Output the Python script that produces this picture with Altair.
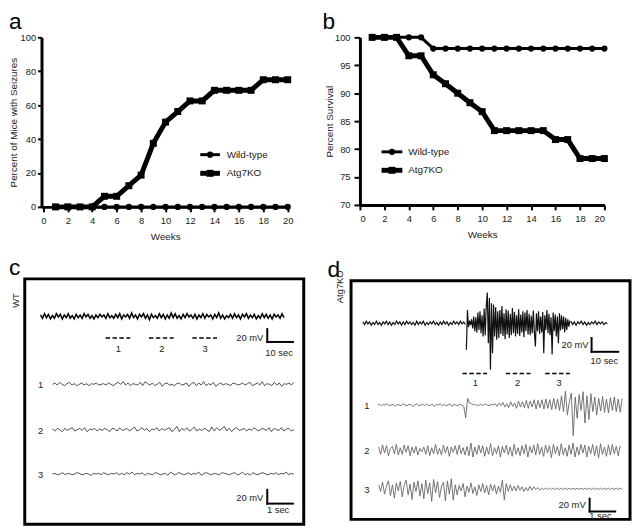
import altair as alt
import pandas as pd

FONT = "Liberation Sans"
INK = "#222222"

# ---------------- data: panels a and b ----------------
weeks = list(range(1, 21))
seizure_wt = [0, 0, 0, 0, 0, 0, 0, 0, 0, 0, 0, 0, 0, 0, 0, 0, 0, 0, 0, 0]
seizure_ko = [0, 0, 0, 0, 6.25, 6.25, 12.5, 18.75, 37.5, 50, 56.25, 62.5, 62.5,
              68.75, 68.75, 68.75, 68.75, 75, 75, 75]
survival_wt = [100, 100, 100, 100, 100, 98, 98, 98, 98, 98, 98, 98, 98, 98, 98,
               98, 98, 98, 98, 98]
survival_ko = [100, 100, 100, 96.7, 96.7, 93.3, 91.7, 90, 88.3, 86.7, 83.3, 83.3,
               83.3, 83.3, 83.3, 81.7, 81.7, 78.3, 78.3, 78.3]
groups = ["Wild-type", "Atg7KO"]
x_ticks = [0, 2, 4, 6, 8, 10, 12, 14, 16, 18, 20]
a_ticks = [0, 20, 40, 60, 80, 100]
b_ticks = [70, 75, 80, 85, 90, 95, 100]

# ---------------- data: EEG traces (mV) ----------------
wt_full = [2, -3, 4, -2, 3, -4, 1, -3, 4, -1, 3, -4, 2, -2, 4, -3, 1, -4, 3, -2, 2, -3, 4, -1, 3,
           -3, 1, -4, 2, -2, 3, -1, 2, -3, 4, -2, 1, -3, 3, -2, 4, -4, 2, -1, 3, -3, 5, -2, 2, -4,
           3, -1, 4, -3, 2, -5, 3, -2, 1, -3, 4, -2, 3, -4, 2, -3, 5, -2, 4, -3, 1, -4, 3, -2, 4,
           -1, 2, -3, 3, -4, 2, -2, 4, -3, 3, -1, 2, -4, 3, -2, 5, -3, 2, -4, 1, -2, 3, -3, 4, -2,
           2, -4, 3, -1, 4, -3, 2, -2, 3, -4, 1, -3, 4, -2, 3, -3, 2, -4, 3, -1, 2, -3, 4, -2]
wt_seg1 = [0, 2, -1, 3, 0, -2, 1, 3, -1, 1, -2, 0, 2, -1, 1, -2, 1, 0, 2, -1, 0, 1, -1, 2, 0,
           -2, 1, 3, 0, 4, -1, 2, -2, 1, 0, -1, 3, -2, 4, 1, -1, 2, -2, 0, 3, -3, 1, 2, -1, 0,
           -2, 1, 2, -1, 0, 2, -3, 1, 3, -2, 2, -1, 4, -2, 1, -1, 3, -3, 0, 2, -1, 1, 0, -2, 2,
           1, -1, 0, 2, -1, 1, 3, -2, 0, 2, -1, 4, -2, 1, 0, -2, 3, -1, 2, -3, 1, 0, 2, -1, 3]
wt_seg2 = [1, -2, 2, 0, -3, 2, -1, 1, 3, -2, 0, 2, -1, 3, -3, 1, 0, 2, -2, 1, -1, 2, 0, -3, 2,
           1, -2, 3, -1, 0, 2, -2, 1, 4, -2, 0, 3, -1, 2, -3, 1, 0, 3, -2, 2, -1, 1, 3, -3, 0,
           5, -3, 2, -1, 3, -2, 0, 4, -2, 1, -1, 2, 0, -3, 4, -2, 3, -1, 1, 5, -2, 2, -3, 1, 3,
           -1, 0, 2, -2, 1, -1, 3, 0, -2, 2, 1, -1, 3, -3, 2, 0, -1, 3, -2, 1, 2, -2, 0]
wt_seg3 = [0, 1, -1, 0, 2, -1, 1, 0, -1, 1, 2, 0, -1, 1, 0, -2, 1, 0, 1, -1, 2, 0, -1, 1, 0,
           2, -1, 1, -1, 2, 0, 3, -1, 1, 0, 2, -2, 1, 0, -1, 2, 1, -1, 0, 1, -2, 3, 0, -1, 2,
           1, -1, 0, 2, -1, 1, 0, 3, -2, 1, 2, 0, -1, 1, 0, -1, 2, 1, 0, -1, 1, 2, -1, 0, 3,
           -1, 1, -2, 2, 0, -1, 1, 2, 0, -1, 1, 0, 2, -1, 1, 0, 3, -1, 1, 0]
ko_full_pre = [2, -2, 3, -1, 2, -3, 1, -2, 3, -2, 1, -3, 2, -1, 3, -2, 2, -3, 1, -2, 3, -1, 2,
               -3, 2, -2, 3, -1, 2, -2, 1, -3, 3, -2, 2, -1, 3, -3, 1, -2, 2, -1, 3, -2, 1, -3,
               2, -2, 3, -1, 2, -3, 1, -2, 3, -1, 2, -2, 3, -1, 2, -2]
ko_full_burst = [-40, 20, -6, 4, -3, 6, -8, 10, -12, 9, -14, 16, -10, 18, -15, 12, -20, 22, -18,
                 25, 46, -30, 38, -70, 30, -45, 28, -20, 24, -25, 18, -22, 20, -16, 26, -19, 15,
                 -24, 21, -17, 19, -22, 14, -18, 23, -15, 17, -20, 12, -16, 21, -19, 13, -14, 18,
                 -21, 16, -12, 20, -17, 14, -18, 11, -15, 19, -13, -35, 15, -12, 18, -16, 10, -14,
                 17, -45, 12, -10, 20, -15, 14, -18, 9, -47, 16, -12, 13, -20, 10, -30, 15, -11,
                 12, -9, 10, -14, 8, -10, 6, -5, 4]
ko_full_post = [3, -2, 2, -3, 2, -1, 3, -2, 2, -3, 1, -2, 2, -1, 3, -2, 2, -1, 2, -2, 1, -1]
ko_seg1 = [0, 1, -1, 1, 0, 2, -1, 0, 1, -2, 1, 0, -1, 2, 0, -1, 1, 1, -2, 0, 2, -1, 0, 1, -1,
           2, -1, 0, 1, -2, 1, 0, 2, -1, 1, -1, 0, 2, -2, 1, 0, -1, 1, 0, -2,
           -19, 10, 3,
           2, 0, 1, -1, 0, 1, -1, 2, 0, -1, 1, 0, 2,
           -2, 3, -1, 4, -3, 2, -4, 5, -2, 3, -5, 6, -3, 5, -4, 7, -5, 6, -3, 8, -6, 7, -4, 8,
           -6, 9, -5, 8, -7, 10, -6, 9, -8,
           14, -10, 21, -15, 5, 18, -46, 12, -20, 16, -8, 20, -27, 14, -22, 17, -10, 12, -15,
           10, -9, 13, -11, 9, -12, 11, -8, 12, -10, 9, -11, 10]
ko_seg2 = [5, -6, 8, -4, 7, -8, 3, 6, -5, 9, -7, 4, -6, 8, -3, 7, -8, 5, -4, 6, -7, 3, -2, 5,
           -6, 7, -8, 4, -5, 9, -6, 3, -7, 8, -4, 6, -9, 5, -3, 7, -6, 8, -5, 4, -7, 6, -8, 11,
           -10, 5, -6, 8, -4, 7, -9, 5, -6, 10, -8, 4, -5, 7, -10, 6, -4, 8, -7, 5, -9, 9, -6,
           4, -8, 7, -5, 9, -10, 6, -4, 8, -7, 10, -6, 5, -9, 8, -4, 7, -11, 9, -5, 6, -8, 10,
           -7, 4, -9, 8, -6, 11, -10, 5, -7, 9, -4, 8, -10, 6, -5, 9, -8, 7, -11, 10, -6, 5,
           -9, 8, -7, 9, -5, 6, -8, 7]
ko_seg3 = [6, -4, 10, -8, 4, 12, -10, 6, -14, 9, -3, 11, -12, 5, 13, -9, 7, -16, 10, -4, 12,
           -11, 8, -15, 13, -7, 9, -19, 14, -6, 11, -13, 4, 10, -18, 12, -8, 15, -17, 6, -9, 5,
           -3, 8, -12, 4, -5, 9, -7, 3, -10, 6, -4, 8, -6, 5, -9, 7, -3, 6, -8, 4, -5, 13, -17,
           8, -4, 6, -3,
           4, -3, 5, -2, 3, -4, 2, -3, 4, -2, 3, -1, 2, -2,
           1, -1, 1, -1, 1, -1, 1, -1, 1, -1, 1, -1, 1, -1, 1, -1, 1, -1, 1, -1, 1, -1, 1, -1,
           1, -1, 1, -1, 1, -1, 1, -1, 1, -1, 1, -1, 1, -1, 1, -1, 1, -1]

# ---------------- layout (page pixels) ----------------
PX_PER_MV = 13.5 / 20.0
A_X0, A_W, A_Y0, A_H = 41, 251, 34, 172
B_W, B_H = 248, 170


def line_panel(wt, ko, xscale, yscale, xaxis, yaxis, leg_x, leg_y):
    df = pd.DataFrame({"week": weeks * 2, "val": wt + ko,
                       "group": [groups[0]] * len(wt) + [groups[1]] * len(ko)})
    enc = dict(x=alt.X("week:Q", scale=xscale, axis=xaxis),
               y=alt.Y("val:Q", scale=yscale, axis=yaxis))
    wt_base = alt.Chart(df).transform_filter(alt.datum.group == groups[0]).encode(**enc)
    ko_base = alt.Chart(df).transform_filter(alt.datum.group == groups[1]).encode(**enc)
    leg = pd.DataFrame({"week": [leg_x[0], leg_x[0]], "week2": [leg_x[1], leg_x[1]],
                        "mid": [(leg_x[0] + leg_x[1]) / 2] * 2, "tx": [leg_x[2]] * 2,
                        "val": leg_y, "group": groups})
    lb = alt.Chart(leg)
    ly = alt.Y("val:Q", scale=yscale, axis=yaxis)
    lxs = alt.X("week:Q", scale=xscale, axis=xaxis)
    layers = [
        wt_base.mark_line(color="black", strokeWidth=3),
        wt_base.mark_point(shape="circle", size=40, filled=True, color="black", opacity=1),
        ko_base.mark_line(color="black", strokeWidth=5),
        ko_base.mark_point(shape="square", size=50, filled=True, color="black", opacity=1),
        lb.transform_filter(alt.datum.group == groups[0]).mark_rule(color="black", strokeWidth=3).encode(
            x=lxs, x2="week2:Q", y=ly),
        lb.transform_filter(alt.datum.group == groups[1]).mark_rule(color="black", strokeWidth=5).encode(
            x=lxs, x2="week2:Q", y=ly),
        lb.transform_filter(alt.datum.group == groups[0]).mark_point(
            shape="circle", size=40, filled=True, color="black", opacity=1).encode(
            x=alt.X("mid:Q", scale=xscale, axis=xaxis), y=ly),
        lb.transform_filter(alt.datum.group == groups[1]).mark_point(
            shape="square", size=50, filled=True, color="black", opacity=1).encode(
            x=alt.X("mid:Q", scale=xscale, axis=xaxis), y=ly),
        lb.mark_text(align="left", baseline="middle", fontSize=10, color=INK, font=FONT).encode(
            x=alt.X("tx:Q", scale=xscale, axis=xaxis), y=ly, text="group:N"),
    ]
    return alt.layer(*layers)


xaxis_a = alt.Axis(values=x_ticks, title="Weeks", tickSize=5, labelPadding=4, titlePadding=7)
layer_a = line_panel(
    seizure_wt, seizure_ko,
    alt.Scale(domain=[-0.15, 20.1], nice=False, zero=False),
    alt.Scale(domain=[0, 100], nice=False),
    xaxis_a,
    alt.Axis(values=a_ticks, title="Percent of Mice with Seizures", tickSize=4,
             labelPadding=2, titlePadding=2),
    (12.84, 14.45, 15.0), [30.8, 19.8])

panel_b = line_panel(
    survival_wt, survival_ko,
    alt.Scale(domain=[0, 20], nice=False, zero=False),
    alt.Scale(domain=[70, 100], nice=False, zero=False),
    xaxis_a,
    alt.Axis(values=b_ticks, title="Percent Survival", tickSize=6, labelPadding=4,
             titlePadding=0),
    (1.77, 3.47, 3.95), [79.5, 76.2]).properties(width=B_W, height=B_H)

# ---------------- bottom panels (c, d): page-pixel scales anchored on panel a's view -------------
xs_b = alt.Scale(domain=[A_X0, A_X0 + A_W], nice=False, zero=False)
ys_b = alt.Scale(domain=[A_Y0, A_Y0 + A_H], nice=False, zero=False, reverse=True)


def BX(f):
    return alt.X(f + ":Q", scale=xs_b, axis=None)


def BY(f):
    return alt.Y(f + ":Q", scale=ys_b, axis=None)


trace_specs = [
    ("c0", wt_full, 40, 287, 317, "cm"),
    ("c1", wt_seg1, 52, 297, 386, "c"),
    ("c2", wt_seg2, 52, 297, 432, "c"),
    ("c3", wt_seg3, 52, 297, 477, "c"),
    ("d0a", ko_full_pre, 367, 471, 324, "dm"),
    ("d0b", ko_full_burst, 472, 577, 324, "dm"),
    ("d0c", ko_full_post, 578, 615, 324, "dm"),
    ("d1", ko_seg1, 382, 630, 407, "ds"),
    ("d2", ko_seg2, 383, 628, 453, "ds"),
    ("d3", ko_seg3, 383, 630, 492, "ds"),
]
rows = []
for tid, vals, x0, x1, yc, kind in trace_specs:
    n = len(vals)
    for i, v in enumerate(vals):
        rows.append({"tid": tid, "kind": kind, "i": i,
                     "px": x0 + (x1 - x0) * i / (n - 1), "py": yc - v * PX_PER_MV})
traces = pd.DataFrame(rows)

tr = alt.Chart(traces)


def trace_layer(kind, color, width):
    return tr.transform_filter(alt.datum.kind == kind).mark_line(
        color=color, strokeWidth=width).encode(
        x=BX("px"), y=BY("py"), detail="tid:N", order="i:Q")


trace_layers = [
    trace_layer("cm", "#000000", 1.5),
    trace_layer("c", "#222222", 0.8),
    trace_layer("dm", "#111111", 1.2),
    trace_layer("ds", "#666666", 0.9),
]

boxes = pd.DataFrame({"x1": [24, 355], "x2": [307, 638], "y1": [279, 281], "y2": [528, 523]})
box_layer = alt.Chart(boxes).mark_rect(fillOpacity=0, stroke="black", strokeWidth=3).encode(
    x=BX("x1"), x2="x2:Q", y=BY("y1"), y2="y2:Q")

dashes = pd.DataFrame({"x1": [106, 150, 194, 468, 512, 552],
                       "x2": [131, 175, 219, 493, 537, 577],
                       "y": [339, 339, 339, 375, 375, 375]})
dash_layer = alt.Chart(dashes).mark_rule(color="black", strokeWidth=1.5, strokeDash=[4.5, 2.5]).encode(
    x=BX("x1"), x2="x2:Q", y=BY("y"))

bars = pd.DataFrame({
    "x1": [270, 270, 270, 270, 599, 599, 597, 597],
    "x2": [270, 296, 270, 296, 599, 626, 597, 623],
    "y1": [330, 343, 493, 507, 339, 353, 502, 515],
    "y2": [343, 343, 507, 507, 353, 353, 515, 515]})
bar_layer = alt.Chart(bars).mark_rule(color="black", strokeWidth=2, strokeCap="square").encode(
    x=BX("x1"), x2="x2:Q", y=BY("y1"), y2="y2:Q")

anchor = alt.Chart(pd.DataFrame({"x1": [8], "x2": [9], "y1": [8], "y2": [9]})).mark_rect(
    opacity=0).encode(x=BX("x1"), x2="x2:Q", y=BY("y1"), y2="y2:Q")

panel_letters = pd.DataFrame({"t": ["a", "b", "c", "d"], "x": [8, 326, 8, 331],
                              "y": [26, 26, 275, 277]})
letters_layer = alt.Chart(panel_letters).mark_text(
    align="left", baseline="alphabetic", fontSize=23, font=FONT, color="black").encode(
    x=BX("x"), y=BY("y"), text="t:N")

center_txt = pd.DataFrame({
    "t": ["1", "2", "3", "10 sec", "1 sec", "1", "2", "3",
          "1", "2", "3", "10 sec", "1 sec", "1", "2", "3"],
    "x": [119, 163, 207, 282, 281, 40, 40, 40,
          481, 524, 566, 612, 608, 371, 371, 371],
    "y": [350, 350, 350, 354, 514, 387, 433, 478,
          385, 385, 385, 362, 520, 408, 454, 493]})
center_layer = alt.Chart(center_txt).mark_text(
    align="center", baseline="middle", fontSize=9.5, font=FONT, color=INK).encode(
    x=BX("x"), y=BY("y"), text="t:N")

right_txt = pd.DataFrame({"t": ["20 mV", "20 mV", "20 mV", "20 mV"],
                          "x": [266, 266, 596, 593], "y": [339, 501, 346, 508]})
right_layer = alt.Chart(right_txt).mark_text(
    align="right", baseline="middle", fontSize=9.5, font=FONT, color=INK).encode(
    x=BX("x"), y=BY("y"), text="t:N")

rot_txt = pd.DataFrame({"t": ["WT", "Atg7KO"], "x": [15, 344], "y": [301, 287]})
rot_layer = alt.Chart(rot_txt).mark_text(
    align="center", baseline="middle", fontSize=9.5, font=FONT, color=INK, angle=270).encode(
    x=BX("x"), y=BY("y"), text="t:N")

deco = alt.layer(anchor, *trace_layers, box_layer, dash_layer, bar_layer,
                 letters_layer, center_layer, right_layer, rot_layer)

panel_a = alt.layer(layer_a, deco).resolve_scale(x="independent", y="independent").properties(
    width=A_W, height=A_H)

chart = alt.HConcatChart(hconcat=[panel_a, panel_b], spacing=72, bounds="flush", padding=0)
chart = chart.configure(font=FONT).configure_view(stroke=None).configure_axis(
    domainColor="black", domainWidth=3, tickColor="black", tickWidth=2,
    labelFontSize=9.5, labelColor=INK, labelFont=FONT, titleFont=FONT,
    titleFontSize=10, titleFontWeight="normal", titleColor=INK, grid=False)

chart.save("out.html", embed_options={"renderer": "svg", "actions": False})
